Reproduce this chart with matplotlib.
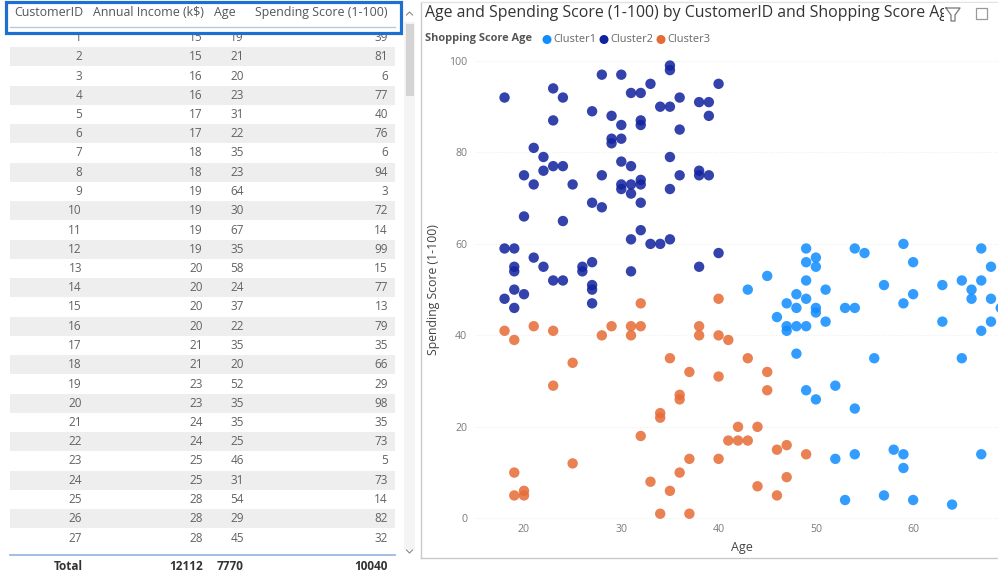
import matplotlib
matplotlib.use("Agg")
import matplotlib.pyplot as plt
from matplotlib.patches import Rectangle, Circle

plt.rcParams['font.family'] = ['Open Sans', 'DejaVu Sans']

# --- table rows (visible part)
cust_id = list(range(1, 28))
income = [15, 15, 16, 16, 17, 17, 18, 18, 19, 19, 19, 19, 20, 20, 20, 20, 21, 21, 23, 23, 24, 24, 25, 25, 28, 28, 28]
age_tbl = [19, 21, 20, 23, 31, 22, 35, 23, 64, 30, 67, 35, 58, 24, 37, 22, 35, 20, 52, 35, 35, 25, 46, 31, 54, 29, 45]
score_tbl = [39, 81, 6, 77, 40, 76, 6, 94, 3, 72, 14, 99, 15, 77, 13, 79, 35, 66, 29, 98, 35, 73, 5, 73, 14, 82, 32]
totals = ["12112", "7770", "10040"]
headers = ["CustomerID", "Annual Income (k$)", "Age", "Spending Score (1-100)"]

# --- scatter points (age, spending score)
c1_age = [43, 48, 49, 51, 47, 48, 50, 50, 46, 47, 47, 48, 49, 51, 53, 54, 57, 59, 60, 63,
          63, 66, 66, 68, 67, 68, 69, 48, 56, 65, 49, 50, 52, 54, 52, 54, 58, 59, 59, 67,
          53, 57, 60, 64, 49, 50, 50, 49, 45, 49, 54, 55, 59, 60, 67, 68, 65, 67]
c1_score = [50, 49, 48, 50, 47, 46, 46, 45, 44, 42, 41, 42, 42, 43, 46, 46, 51, 47, 49, 51,
            43, 50, 48, 48, 41, 43, 46, 36, 35, 35, 28, 26, 29, 24, 13, 14, 15, 14, 11, 14,
            4, 5, 4, 3, 59, 57, 55, 56, 53, 52, 59, 58, 60, 56, 59, 55, 52, 52]

c2_age = [18, 23, 24, 23, 28, 30, 35, 35, 33, 40, 31, 32, 36, 34, 35, 38, 39, 39, 27, 29,
          30, 32, 32, 36, 29, 29, 30, 21, 22, 23, 24, 22, 20, 21, 25, 28, 30, 31, 35, 36,
          38, 38, 39, 30, 30, 31, 31, 32, 32, 35, 27, 28, 32, 20, 24, 32, 31, 33, 34, 35,
          40, 38, 18, 19, 21, 22, 19, 19, 26, 26, 27, 31, 23, 24, 19, 27, 27, 18, 20, 19, 27]
c2_score = [92, 94, 92, 87, 97, 97, 99, 98, 95, 95, 93, 93, 92, 90, 90, 91, 91, 88, 89, 88,
            86, 87, 86, 85, 83, 82, 83, 81, 79, 77, 77, 76, 75, 73, 73, 75, 78, 77, 79, 75,
            76, 75, 75, 73, 72, 73, 71, 74, 73, 72, 69, 68, 69, 66, 65, 63, 61, 60, 60, 61,
            58, 55, 59, 59, 57, 55, 55, 54, 55, 54, 56, 54, 52, 52, 50, 51, 50, 48, 49, 46, 47]

c3_age = [32, 40, 18, 19, 21, 23, 28, 29, 31, 31, 32, 38, 38, 40, 41, 25, 35, 37, 40, 23,
          36, 36, 34, 34, 32, 42, 44, 41, 42, 43, 40, 37, 25, 19, 19, 20, 20, 33, 36, 35,
          34, 37, 43, 45, 45, 46, 47, 49, 47, 44, 46]
c3_score = [47, 48, 41, 39, 42, 41, 40, 42, 42, 40, 42, 42, 40, 40, 39, 34, 35, 32, 31, 29,
            27, 26, 23, 22, 18, 20, 20, 17, 17, 17, 13, 13, 12, 10, 5, 6, 5, 8, 10, 6,
            1, 1, 35, 32, 28, 15, 16, 14, 9, 7, 5]

colors = {"Cluster1": "#118DFF", "Cluster2": "#12239E", "Cluster3": "#E66C37"}

W, H = 998, 579
fig = plt.figure(figsize=(W / 100, H / 100), dpi=100)
fig.patch.set_facecolor("white")

# canvas in pixel coords for the table and decorations
cv = fig.add_axes([0, 0, 1, 1])
cv.set_xlim(0, W)
cv.set_ylim(H, 0)
cv.axis("off")

txt_col = "#626262"
fs = 8.5

# --- table
row_y0, row_dy = 37.5, 19.25
for i, (cid, inc, a, s) in enumerate(zip(cust_id, income, age_tbl, score_tbl)):
    y = row_y0 + i * row_dy
    if i % 2 == 1:
        cv.add_patch(Rectangle((10, y - row_dy / 2), 385, row_dy, fc="#eeeeee", ec="none", zorder=1))
    cv.text(82, y, str(cid), ha="right", va="center", fontsize=fs, color=txt_col, zorder=2)
    cv.text(203, y, str(inc), ha="right", va="center", fontsize=fs, color=txt_col, zorder=2)
    cv.text(244, y, str(a), ha="right", va="center", fontsize=fs, color=txt_col, zorder=2)
    cv.text(388, y, str(s), ha="right", va="center", fontsize=fs, color=txt_col, zorder=2)

# header (covers the top of row 1)
cv.add_patch(Rectangle((0, 0), 400, 33.5, fc="white", ec="none", zorder=3))
for x, h in zip([14, 93, 214, 255], headers):
    cv.text(x, 12.5, h, ha="left", va="center", fontsize=8.9, color="#555555", zorder=4)
cv.plot([10, 395], [27, 27], color="#b9c9dd", lw=1, zorder=4)
cv.add_patch(Rectangle((6.5, 1.5), 395, 31, fc="none", ec="#1f6fd1", lw=2.3, zorder=5))

# total row
cv.plot([10, 395], [555, 555], color="#9db8dc", lw=1.3, zorder=2)
cv.text(83, 567, "Total", ha="right", va="center", fontsize=fs, weight="bold", color="#333333")
for x, t in zip([203, 244, 388], totals):
    cv.text(x, 567, t, ha="right", va="center", fontsize=fs, weight="bold", color="#333333")

# scrollbar
cv.add_patch(Rectangle((404, 22), 11, 528, fc="#f4f4f4", ec="none"))
cv.add_patch(Rectangle((406, 24), 8, 72, fc="#d4d4d4", ec="none"))
cv.plot([406.5, 409.5, 412.5], [15, 12, 15], color="#888888", lw=0.8)
cv.plot([406.5, 409.5, 412.5], [550, 553, 550], color="#888888", lw=0.8)

# visual border on the right
cv.plot([421, 421], [3, 558], color="#c9c9c9", lw=1)
cv.plot([421, W], [558, 558], color="#c9c9c9", lw=1)
cv.plot([421, W], [2, 2], color="#e2e2e2", lw=1)

# title, clipped by the header icons
cv.text(425, 13, "Age and Spending Score (1-100) by CustomerID and Shopping Score Age",
        ha="left", va="center", fontsize=11.4, color="#333333", zorder=2)
cv.add_patch(Rectangle((944, 3), 54, 24, fc="white", ec="none", zorder=3))
cv.plot([946, 960, 955, 955, 951, 951, 946], [8, 8, 15, 21, 21, 15, 8], color="#777777", lw=0.9, zorder=4)
cv.add_patch(Rectangle((976, 8), 11, 11, fc="none", ec="#999999", lw=0.9, zorder=4))

# legend
cv.text(425, 39, "Shopping Score Age", ha="left", va="center", fontsize=7.9, weight="bold", color="#555555")
leg_x = [547, 604, 661]
for x, (name, col) in zip(leg_x, colors.items()):
    cv.add_patch(Circle((x, 39.5), 4.5, fc=col, ec="none"))
    cv.text(x + 6, 39, name, ha="left", va="center", fontsize=7.9, color="#666666")

# --- scatter plot
left_px, right_px, top_px, bot_px = 475.35, W, 54.1, 521.0
ax = fig.add_axes([left_px / W, (H - bot_px) / H, (right_px - left_px) / W, (bot_px - top_px) / H])
ax.set_facecolor("none")
ax.set_xlim(15, 68.72)
ax.set_ylim(-0.59, 101.5)

for (name, col), xs, ys in zip(colors.items(), [c1_age, c2_age, c3_age], [c1_score, c2_score, c3_score]):
    ax.scatter(xs, ys, s=56, color=col, alpha=0.86, edgecolors="none", zorder=3)

ax.set_xticks([20, 30, 40, 50, 60])
ax.set_yticks([0, 20, 40, 60, 80, 100])
ax.tick_params(length=0, labelsize=7.6, labelcolor="#7a7a7a")
ax.tick_params(axis="y", pad=6)
ax.tick_params(axis="x", pad=2)
ax.grid(axis="y", color="#efefef", linestyle=":", lw=0.8)
for sp in ax.spines.values():
    sp.set_visible(False)

fig.text(434 / W, 1 - 290 / H, "Spending Score (1-100)", rotation=90, ha="center", va="center",
         fontsize=8.8, color="#444444")
fig.text(742 / W, 1 - 548 / H, "Age", ha="center", va="center", fontsize=9, color="#444444")

fig.savefig("out.png", dpi=100)
